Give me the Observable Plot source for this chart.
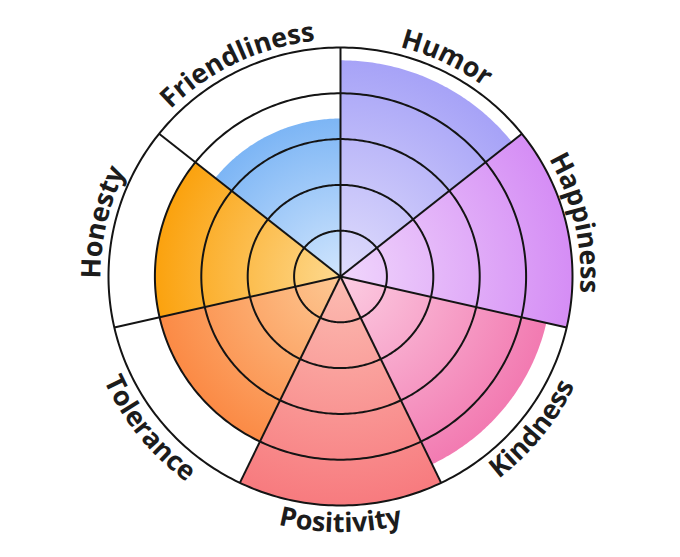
<!DOCTYPE html>
<html><head><meta charset="utf-8">
<script src="https://cdn.jsdelivr.net/npm/d3@7"></script>
<script src="https://cdn.jsdelivr.net/npm/@observablehq/plot@0.6"></script>
<style>html,body{margin:0;padding:0;background:#fff}#chart{width:680px;height:557px}</style>
</head><body><div id="chart"></div>
<script>
const categories = ["Humor", "Happiness", "Kindness", "Positivity", "Tolerance", "Honesty", "Friendliness"];
const values = [4.72, 5, 4.55, 5, 4, 4, 3.45];
const innerColors = ["#e0ddfc", "#f0d6fc", "#fccde2", "#fcbcb2", "#fdc893", "#fdd98f", "#d0e5fd"];
const outerColors = ["#a6a2f7", "#d58df5", "#f27ab1", "#f77a7e", "#fb8a45", "#fba20e", "#7cb5f5"];
const ringValues = [1, 2, 3, 4, 5];
const maxValue = 5;

const n = categories.length;
const step = 2 * Math.PI / n;
const pt = (v, a) => ({x: v * Math.sin(a), y: v * Math.cos(a)});

const sectors = categories.map((c, i) => {
  const a0 = i * step, a1 = (i + 1) * step;
  const pts = [pt(0, 0)];
  for (let k = 0; k <= 80; k++) pts.push(pt(values[i], a0 + (a1 - a0) * k / 80));
  pts.push(pt(0, 0));
  return pts;
});
const rings = ringValues.flatMap(r => d3.range(0, 361).map(k => ({ring: r, ...pt(r, k * Math.PI / 180)})));
const spokes = categories.map((c, i) => {
  const e = pt(maxValue, i * step);
  return {x1: 0, y1: 0, x2: e.x, y2: e.y};
});
const labels = categories.map((c, i) => {
  const mid = (i + 0.5) * step;
  const bottom = Math.cos(mid) < -0.5;
  const p = pt(maxValue * 1.08, mid);
  return {name: c, mid, bottom, x: p.x, y: p.y, rotate: bottom ? mid * 180 / Math.PI - 180 : mid * 180 / Math.PI};
});

const marks = [];
sectors.forEach((s, i) => marks.push(Plot.line(s, {x: "x", y: "y", fill: `url(#grad${i})`, stroke: "none", curve: "linear"})));
marks.push(Plot.line(rings, {x: "x", y: "y", z: "ring", stroke: "#141414", strokeWidth: 2}));
marks.push(Plot.link(spokes, {x1: "x1", y1: "y1", x2: "x2", y2: "y2", stroke: "#141414", strokeWidth: 2}));
marks.push(Plot.text(labels, {x: "x", y: "y", text: "name", rotate: "rotate", fontSize: 27, fontWeight: 700, fontFamily: "Open Sans", fill: "#1c1c1c"}));

const svg = Plot.plot({
  width: 680, height: 557,
  marginLeft: 108, marginRight: 108, marginTop: 47, marginBottom: 52,
  x: {domain: [-maxValue, maxValue], axis: null},
  y: {domain: [-maxValue, maxValue], axis: null},
  style: {background: "#fff", overflow: "visible"},
  marks
});

const sx = svg.scale("x"), sy = svg.scale("y");
const ns = "http://www.w3.org/2000/svg";
const defs = document.createElementNS(ns, "defs");
svg.appendChild(defs);
const cx = sx.apply(0), cy = sy.apply(0);
categories.forEach((c, i) => {
  const g = document.createElementNS(ns, "radialGradient");
  g.setAttribute("id", `grad${i}`);
  g.setAttribute("gradientUnits", "userSpaceOnUse");
  g.setAttribute("cx", cx); g.setAttribute("cy", cy);
  g.setAttribute("r", sx.apply(values[i]) - cx);
  [[0, innerColors[i]], [1, outerColors[i]]].forEach(([o, col]) => {
    const st = document.createElementNS(ns, "stop");
    st.setAttribute("offset", o); st.setAttribute("stop-color", col);
    g.appendChild(st);
  });
  defs.appendChild(g);
});
// curved label paths
const pxPerUnit = sx.apply(1) - cx;
labels.forEach((l, i) => {
  const rb = (l.bottom ? 259 : 240) / pxPerUnit;
  const span = 0.95;
  const pts = d3.range(0, 121).map(k => {
    const t = k / 120;
    const a = l.bottom ? l.mid + span - 2 * span * t : l.mid - span + 2 * span * t;
    const p = pt(rb, a);
    return [sx.apply(p.x), sy.apply(p.y)];
  });
  const path = document.createElementNS(ns, "path");
  path.setAttribute("id", `lp${i}`);
  path.setAttribute("d", "M" + pts.map(p => p.join(",")).join("L"));
  defs.appendChild(path);
});
const texts = svg.querySelectorAll('g[aria-label="text"] text');
texts.forEach((t, i) => {
  ["transform", "x", "y", "dy"].forEach(a => t.removeAttribute(a));
  t.textContent = "";
  const tp = document.createElementNS(ns, "textPath");
  tp.setAttribute("href", `#lp${i}`);
  tp.setAttribute("startOffset", "50%");
  tp.textContent = labels[i].name;
  t.appendChild(tp);
});
document.getElementById("chart").appendChild(svg);
</script>
</body></html>
